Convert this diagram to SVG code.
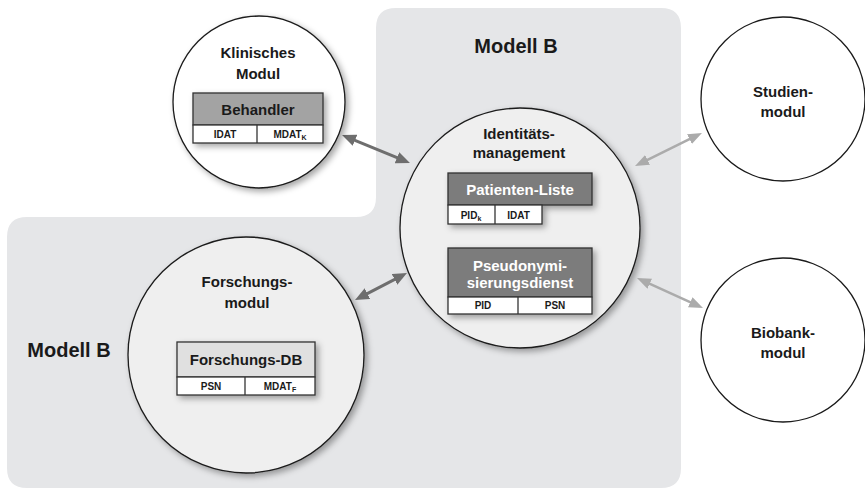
<svg xmlns="http://www.w3.org/2000/svg" width="865" height="492" viewBox="0 0 865 492">
<defs>
<style>
text{font-family:"Liberation Sans",Arial,sans-serif;font-weight:bold;text-anchor:middle;fill:#1a1a1a}
.t{font-size:15px}
.big{font-size:20px}
.cell{font-size:10px}
.w{fill:#ffffff}
.circ{stroke:#1a1a1a;stroke-width:1.3}
.box{stroke:#333;stroke-width:1.3}
.dark{stroke:#6e6e6e;stroke-width:3;fill:none}
.light{stroke:#ababab;stroke-width:2.5;fill:none}
</style>
<filter id="sh" x="-20%" y="-20%" width="150%" height="150%">
<feDropShadow dx="3" dy="3" stdDeviation="3" flood-color="#000" flood-opacity="0.35"/>
</filter>
<marker id="ad" markerUnits="userSpaceOnUse" markerWidth="15" markerHeight="12" refX="4" refY="6" orient="auto-start-reverse">
<path d="M0,0 L14,6 L0,12 z" fill="#6e6e6e"/>
</marker>
<marker id="al" markerUnits="userSpaceOnUse" markerWidth="15" markerHeight="12" refX="4" refY="5.5" orient="auto-start-reverse">
<path d="M0,0 L14,5.5 L0,11 z" fill="#ababab"/>
</marker>
</defs>
<rect width="865" height="492" fill="#ffffff"/>
<g id="modell-b-bg">
<path d="M396,8 H661 Q681,8 681,28 V468 Q681,488 661,488 H27 Q7,488 7,468 V237 Q7,217 27,217 H356 Q376,217 376,197 V28 Q376,8 396,8 Z" fill="#e5e6e8"/>
<text class="big" x="516" y="53">Modell B</text>
<text class="big" x="69" y="357">Modell B</text>
</g>
<g id="connectors">
<line class="dark" x1="351.3" y1="138.8" x2="400.7" y2="159.2" marker-start="url(#ad)" marker-end="url(#ad)"/>
<line class="dark" x1="363.9" y1="295.4" x2="398.1" y2="277.6" marker-start="url(#ad)" marker-end="url(#ad)"/>
<line class="light" x1="644" y1="161.6" x2="693" y2="137.4" marker-start="url(#al)" marker-end="url(#al)"/>
<line class="light" x1="646.1" y1="282.1" x2="693.9" y2="303.9" marker-start="url(#al)" marker-end="url(#al)"/>
</g>
<g id="klinisches-modul">
<circle class="circ" cx="259" cy="102" r="86" fill="#ffffff" filter="url(#sh)"/>
<text class="t" x="258" y="58">Klinisches</text>
<text class="t" x="258" y="79">Modul</text>
<g filter="url(#sh)">
<rect class="box" x="193" y="93" width="130" height="32" fill="#a3a3a3"/>
<rect class="box" x="193" y="125" width="130" height="18" fill="#ffffff"/>
</g>
<line class="box" x1="257" y1="125" x2="257" y2="143"/>
<text class="t" x="258" y="115">Behandler</text>
<text class="cell" x="225" y="138">IDAT</text>
<text class="cell" x="290" y="138">MDAT<tspan font-size="7" dy="2">K</tspan></text>
</g>
<g id="identitaetsmanagement">
<circle class="circ" cx="520" cy="228" r="120" fill="#efefef" filter="url(#sh)"/>
<text class="t" x="519" y="139">Identitäts-</text>
<text class="t" x="519" y="158">management</text>
<g filter="url(#sh)">
<rect class="box" x="448" y="173" width="144" height="32" fill="#7b7b7b"/>
<rect class="box" x="448" y="205" width="94" height="19" fill="#ffffff"/>
</g>
<line class="box" x1="495" y1="205" x2="495" y2="224"/>
<text class="t w" x="520" y="195">Patienten-Liste</text>
<text class="cell" x="471" y="219">PID<tspan font-size="7" dy="2">k</tspan></text>
<text class="cell" x="518.5" y="219">IDAT</text>
<g filter="url(#sh)">
<rect class="box" x="448" y="248" width="144" height="49" fill="#7b7b7b"/>
<rect class="box" x="448" y="297" width="144" height="17" fill="#ffffff"/>
</g>
<line class="box" x1="518" y1="297" x2="518" y2="314"/>
<text class="t w" x="520" y="271">Pseudonymi-</text>
<text class="t w" x="520" y="288">sierungsdienst</text>
<text class="cell" x="483" y="309">PID</text>
<text class="cell" x="555" y="309">PSN</text>
</g>
<g id="forschungsmodul">
<circle class="circ" cx="246" cy="355" r="118" fill="#efefef" filter="url(#sh)"/>
<text class="t" x="247" y="287">Forschungs-</text>
<text class="t" x="247" y="308">modul</text>
<g filter="url(#sh)">
<rect class="box" x="177" y="342" width="138" height="35" fill="#e0e0e0"/>
<rect class="box" x="177" y="377" width="138" height="18" fill="#ffffff"/>
</g>
<line class="box" x1="245" y1="377" x2="245" y2="395"/>
<text class="t" x="246" y="365">Forschungs-DB</text>
<text class="cell" x="211" y="390">PSN</text>
<text class="cell" x="280" y="390">MDAT<tspan font-size="7" dy="2">F</tspan></text>
</g>
<g id="studienmodul">
<circle class="circ" cx="783" cy="99" r="82" fill="#ffffff"/>
<text class="t" x="783" y="97">Studien-</text>
<text class="t" x="783" y="117">modul</text>
</g>
<g id="biobankmodul">
<circle class="circ" cx="783" cy="340" r="82" fill="#ffffff"/>
<text class="t" x="783" y="338">Biobank-</text>
<text class="t" x="783" y="358">modul</text>
</g>
</svg>
